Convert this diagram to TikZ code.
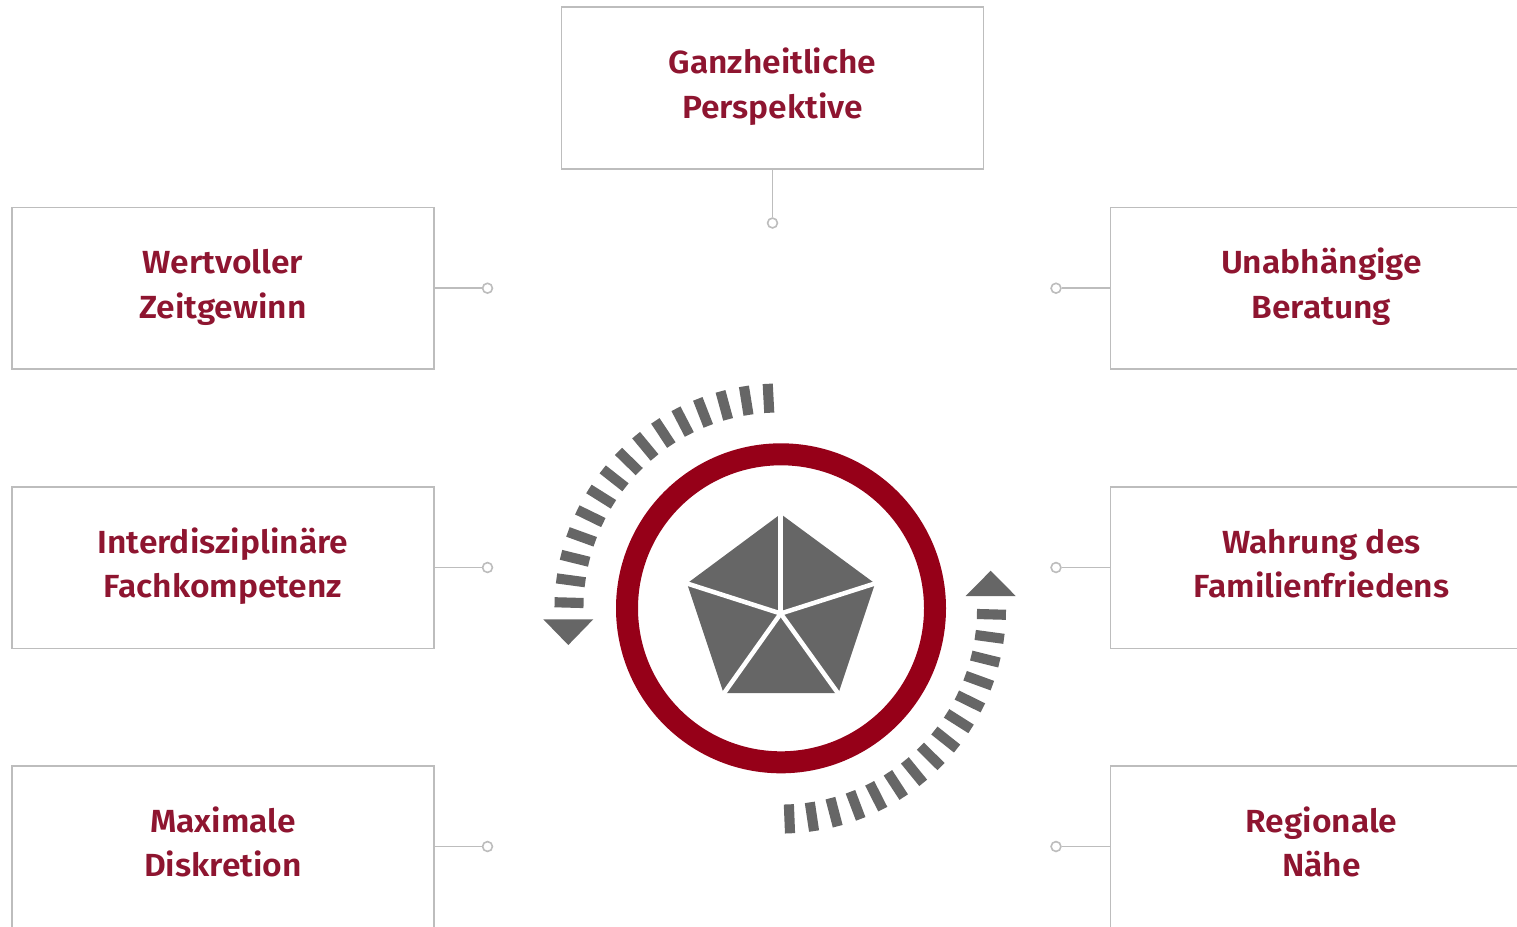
\documentclass[tikz,border=0pt]{standalone}
\usepackage{fontspec}
\setmainfont{Fira Sans}[BoldFont={Fira Sans SemiBold},BoldFeatures={FakeStretch=1.05}]
\definecolor{lab}{HTML}{8E1530}
\definecolor{ringc}{HTML}{960018}
\definecolor{grayc}{HTML}{666666}
\definecolor{linec}{HTML}{BDBDBD}
\newcommand{\cardlines}[2]{\strut #1\\#2\rule[-11.3pt]{0pt}{11.3pt}}
\tikzset{
  card/.style={draw=linec,line width=1.2pt,fill=white,minimum width=316.5pt,minimum height=121.2pt,inner sep=0pt,align=center,
    text=lab,font=\fontsize{24pt}{33.4pt}\selectfont\bfseries},
  pin/.style={circle,draw=linec,line width=1.2pt,fill=white,minimum size=7.4pt,inner sep=0pt},
  wire/.style={draw=linec,line width=1.2pt},
  tick/.style={draw=grayc,line width=7.6pt},
  tri/.style={fill=grayc,draw=none}
}
\begin{document}
\begin{tikzpicture}[x=0.75pt,y=-0.75pt]
\useasboundingbox (0,0) rectangle (1517,926);
\clip (0,0) rectangle (1517,926);
\node[card] (top) at (772.5,88) {\cardlines{Ganzheitliche}{Perspektive}};
\node[card] (l1) at (223,288.2) {\cardlines{Wertvoller}{Zeitgewinn}};
\node[card] (l2) at (223,567.5) {\cardlines{Interdisziplinäre}{Fachkompetenz}};
\node[card] (l3) at (223,846.5) {\cardlines{Maximale}{Diskretion}};
\node[card] (r1) at (1321.5,288.2) {\cardlines{Unabhängige}{Beratung}};
\node[card] (r2) at (1321.5,567.5) {\cardlines{Wahrung des}{Familienfriedens}};
\node[card] (r3) at (1321.5,846.5) {\cardlines{Regionale}{Nähe}};
\node[pin] (ptop) at (772.5,223) {};
\node[pin] (pl1) at (487.5,288.2) {};
\node[pin] (pl2) at (487.5,567.5) {};
\node[pin] (pl3) at (487.5,846.5) {};
\node[pin] (pr1) at (1056,288.2) {};
\node[pin] (pr2) at (1056,567.5) {};
\node[pin] (pr3) at (1056,846.5) {};
\draw[wire] (top.south) -- (ptop);
\foreach \a in {1,2,3}{
  \draw[wire] (l\a.east) -- (pl\a);
  \draw[wire] (r\a.west) -- (pr\a);
}
% ring
\draw[ringc,line width=16.5pt] (781,608.3) circle (154);
% pentagon
\fill[grayc] (780.7,514) -- (875,583.5) -- (838.5,693) -- (723.5,693) -- (687,583.5) -- cycle;
\foreach \p in {(780.7,510),(878,582.5),(840,696),(722,696),(684,582.5)}
  \draw[white,line width=3.4pt] (780.7,613.5) -- \p;
% ticks
\foreach \k in {0,...,14}{
  \pgfmathsetmacro{\ang}{93+6.1*\k}
  \draw[tick] ({779.5+196*cos(\ang)},{608.5-196*sin(\ang)}) -- ({779.5+225*cos(\ang)},{608.5-225*sin(\ang)});
  \pgfmathsetmacro{\angb}{272.3+6.15*\k}
  \draw[tick] ({781+196*cos(\angb)},{608.5-196*sin(\angb)}) -- ({781+225*cos(\angb)},{608.5-225*sin(\angb)});
}
\fill[tri] (543.3,619.3) -- (593.3,619.3) -- (568.3,645) -- cycle;
\fill[tri] (965.7,596) -- (1015.7,596) -- (990.7,570.7) -- cycle;
\end{tikzpicture}
\end{document}
